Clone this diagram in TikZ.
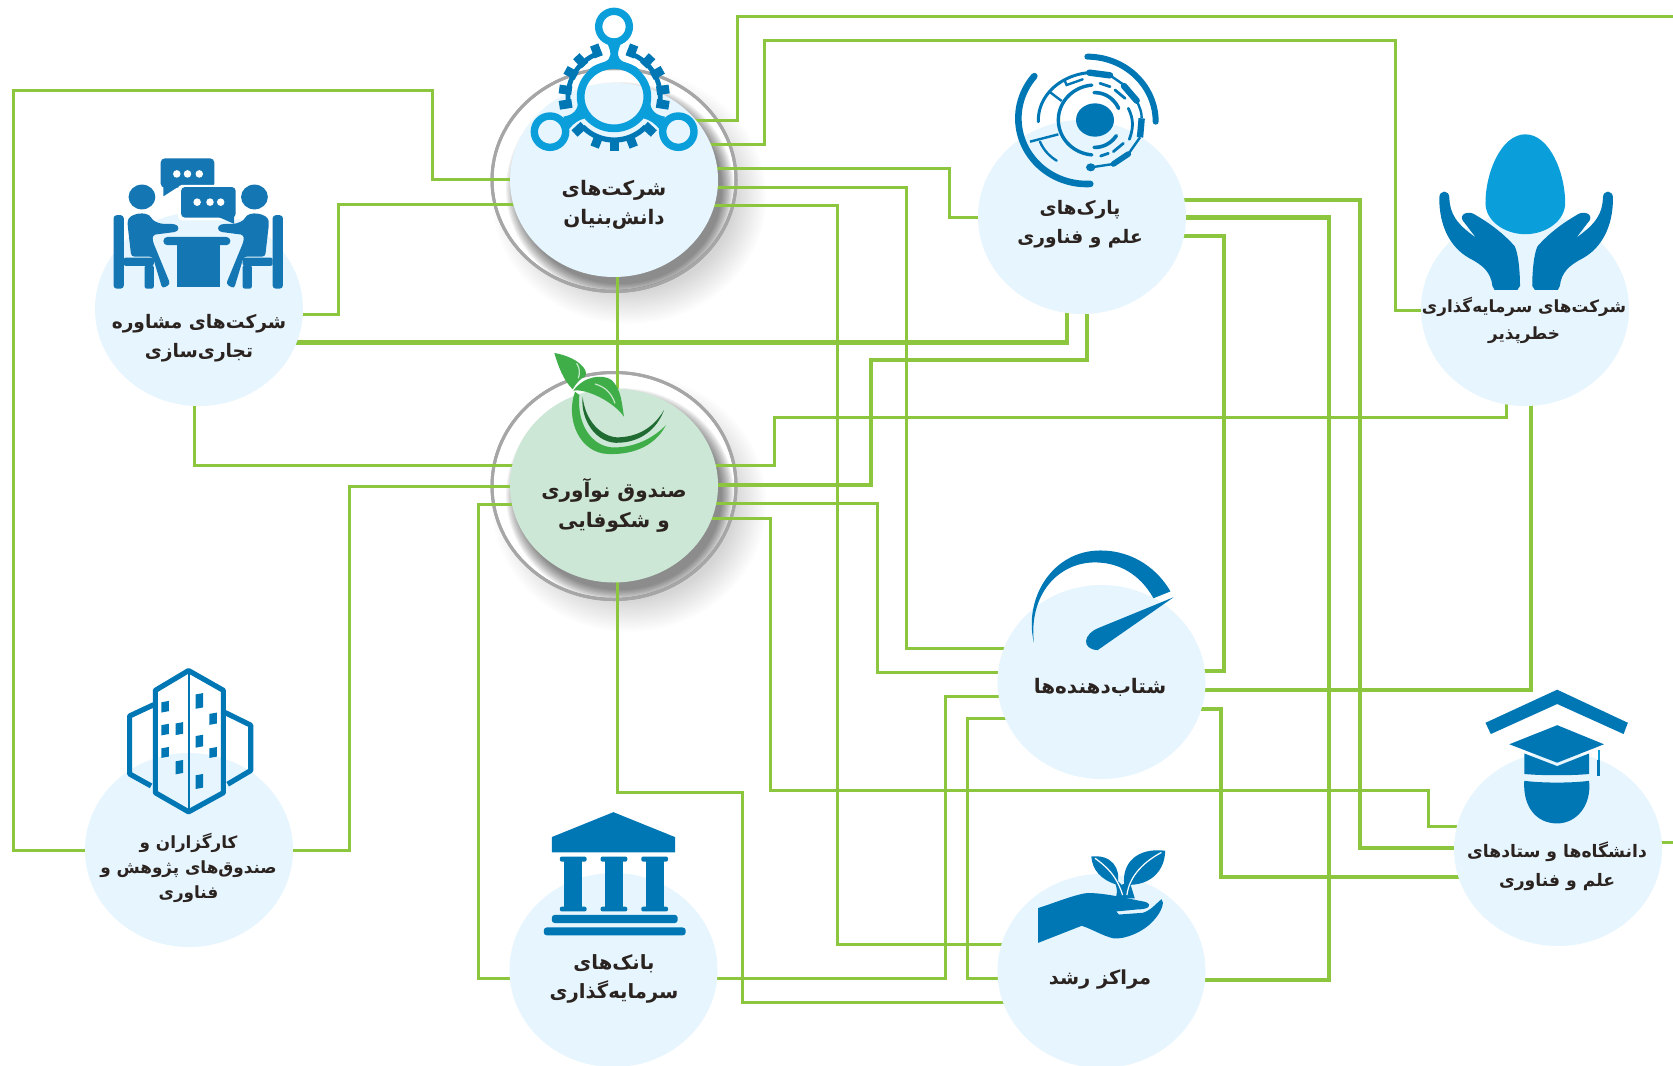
\documentclass[tikz,border=0pt]{standalone}
\usepackage{fontspec}
\usetikzlibrary{shapes.geometric}
\TeXXeTstate=1
\newfontfamily\arabicfont[Script=Arabic]{DejaVu Sans}
\pgfdeclarelayer{rings}
\pgfdeclarelayer{links}
\pgfsetlayers{rings,links,main}
\definecolor{linkgreen}{HTML}{8CC63F}
\definecolor{discblue}{HTML}{E6F5FE}
\definecolor{discgreen}{HTML}{CDE7D6}
\definecolor{iconblue}{HTML}{0077B5}
\definecolor{iconcyan}{HTML}{0A9FDB}
\definecolor{iconnavy}{HTML}{1476B3}
\definecolor{leafgreen}{HTML}{3FAE49}
\definecolor{leafdark}{HTML}{1F6B32}
\definecolor{inktext}{HTML}{2B2320}
\newcommand\EArc[7]{\draw[#1] plot[domain=#6:#7,samples=40] ({#2+#3*cos(\x)},{#4+#5*sin(\x)});}
\newcommand\labfont[2]{\arabicfont\bfseries\fontsize{#1}{#2}\selectfont}
\tikzset{
  disc/.style={ellipse,fill=discblue,minimum width=104pt,minimum height=97pt,inner sep=0pt},
  ringnode/.style={ellipse,fill=white,draw=gray!75,line width=1.5pt,minimum width=122pt,inner sep=0pt},
  lab/.style={font=\labfont{9.3}{14.6},text=inktext,align=center,inner sep=0pt},
  link/.style={draw=linkgreen,line width=1.5pt},
  linkm/.style={draw=linkgreen,line width=2pt},
  linkb/.style={draw=linkgreen,line width=2.3pt},
  z1/.style={x=0.26786pt,y=-0.17219pt},
  z2/.style={x=0.26563pt,y=-0.17219pt,xshift=420pt},
  z3/.style={x=0.26786pt,y=-0.17060pt,yshift=-265pt},
  z4/.style={x=0.26563pt,y=-0.17060pt,xshift=420pt,yshift=-265pt},
  zk/.style={x=0.16667pt,y=-0.16667pt,xshift=255pt},
  zs/.style={x=0.16667pt,y=-0.16667pt,xshift=500pt,yshift=-20pt},
  zf/.style={x=0.16667pt,y=-0.16667pt,xshift=240pt,yshift=-180pt},
}
\begin{document}
\begin{tikzpicture}[x=0.5pt,y=-0.5pt]
\useasboundingbox (0,0) rectangle (1673,1065);
\coordinate (edgeT) at (1673,16.5);
\coordinate (edgeU) at (1673,842);
% discs
\node[disc] (kb) at (614,180) {};
\node[disc,fill=discgreen] (fund) at (614,485.5) {};
\node[disc] (cons) at (199,309) {};
\node[disc] (sp) at (1082,217) {};
\node[disc] (vc) at (1525,309) {};
\node[disc] (acc) at (1101.5,682) {};
\node[disc] (grow) at (1101.5,971) {};
\node[disc] (uni) at (1558,849) {};
\node[disc] (brk) at (189,850) {};
\node[disc] (bank) at (613.5,970) {};
% rings with shadows
\begin{pgfonlayer}{rings}
\fill[white] (0,0) rectangle (1673,1065);
\foreach \cx/\cy/\ry/\nm in {614/180/111.5/kbring,614/486/113.5/fundring}{
  \foreach \i in {0,...,13}
    \fill[black,opacity=.012] (\cx+15,\cy+17) ellipse [x radius={106+2.4*\i},y radius={\ry-16+2.4*\i}];
  \node[ringnode,minimum height=\ry*1pt] (\nm) at (\cx,\cy) {};
  \begin{scope}
    \clip (\cx,\cy) ellipse [x radius=121,y radius={\ry-1}];
    \foreach \i in {0,...,10}
      \fill[black,opacity=.05] (\cx+6,\cy+9) ellipse [x radius={102+1.2*\i},y radius={95+1.2*\i}];
  \end{scope}
  \draw[gray!70,line width=1.5pt] (\cx,\cy) ellipse [x radius=122,y radius=\ry];
}
\end{pgfonlayer}
% connectors
\begin{pgfonlayer}{links}
\draw[link] (kb |- 0,120.5) -| (737.5,16.5) -- (edgeT);
\draw[link] (kb |- 0,144.6) -| (764,41) -| (1395,310.6) -- (vc |- 0,310.6);
\draw[link] (kb |- 0,168) -| (949,217.6) -- (sp |- 0,217.6);
\draw[link] (kb |- 0,187) -| (906,648) -- (acc |- 0,648);
\draw[link] (kb |- 0,205.6) -| (837,944) -- (grow |- 0,944);
\draw[link] (kb |- 0,179.8) -| (432,90.6) -| (13.4,850) -- (brk |- 0,850);
\draw[link] (kb |- 0,204) -| (338.5,314.4) -- (cons |- 0,314.4);
\draw[link] (kb -| 617,0) -- (fund -| 617,0);
\draw[link] (fund -| 617,0) |- (742,792.7) |- (grow |- 0,1002.5);
\draw[linkb] (cons |- 0,342.6) -| (sp -| 1067,0);
\draw[linkm] (sp -| 1086.5,0) |- (871,360) |- (fund |- 0,484.5);
\draw[link] (fund |- 0,465) -| (cons -| 194,0);
\draw[link] (fund |- 0,465) -| (774,417) -| (vc -| 1506,0);
\draw[link] (fund |- 0,486) -| (349,850) -- (brk |- 0,850);
\draw[link] (fund |- 0,504.5) -| (478,978.7) -- (bank |- 0,978.7);
\draw[link] (bank |- 0,978.7) -| (945,696) -- (acc |- 0,696);
\draw[link] (fund |- 0,503) -| (877,672) -- (acc |- 0,672);
\draw[link] (fund |- 0,518) -| (770,790) -| (1428,826) -- (uni |- 0,826);
\draw[linkb] (sp |- 0,200) -| (1360,848) -- (uni |- 0,848);
\draw[linkb] (sp |- 0,217.6) -| (1329,980) -- (grow |- 0,980);
\draw[linkm] (sp |- 0,236) -| (1224,670.6) -- (acc |- 0,670.6);
\draw[linkm] (vc -| 1531,0) |- (acc |- 0,689.7);
\draw[linkm] (acc |- 0,709) -| (1221,877) -- (uni |- 0,877);
\draw[link] (acc |- 0,718) -| (967.5,978.7) -- (grow |- 0,978.7);
\draw[link] (uni |- 0,842) -- (edgeU);
\end{pgfonlayer}
% labels
\node[lab,font=\labfont{10}{14.6}] (tkb) at (614,205) {\beginR شرکت‌های\endR\\\beginR دانش‌بنیان\endR};
\node[lab,font=\labfont{10}{15}] (tfund) at (614,505.5) {\beginR صندوق نوآوری\endR\\\beginR و شکوفایی\endR};
\node[lab] (tcons) at (199,338.5) {\beginR شرکت‌های مشاوره\endR\\\beginR تجاری‌سازی\endR};
\node[lab] (tsp) at (1080,224.5) {\beginR پارک‌های\endR\\\beginR علم و فناوری\endR};
\node[lab,font=\labfont{8.4}{13.5}] (tvc) at (1524,320.5) {\beginR شرکت‌های سرمایه‌گذاری\endR\\\beginR خطرپذیر\endR};
\node[lab,font=\labfont{10}{14.6}] (tacc) at (1100,687.6) {\beginR شتاب‌دهنده‌ها\endR};
\node[lab,font=\labfont{9.7}{14.6}] (tgrow) at (1100,979) {\beginR مراکز رشد\endR};
\node[lab,font=\labfont{8.6}{14.5}] (tuni) at (1557,866.5) {\beginR دانشگاه‌ها و ستادهای\endR\\\beginR علم و فناوری\endR};
\node[lab,font=\labfont{8.4}{12.5}] (tbrk) at (188.5,868) {\beginR کارگزاران و\endR\\\beginR صندوق‌های پژوهش و\endR\\\beginR فناوری\endR};
\node[lab,font=\labfont{9.8}{14.6}] (tbank) at (614,979) {\beginR بانک‌های\endR\\\beginR سرمایه‌گذاری\endR};

% icon: knowledge-based companies
\begin{scope}[zk]
  \foreach \xx/\sh in {1/0,-1/625}{
  \begin{scope}[shift={(\sh,0)},xscale=\xx]
    \EArc{iconblue,line width=2.4pt}{312}{138}{290}{138}{166}{254}
    \foreach \a in {249,227,209,188,171}
      \draw[iconblue,line width=4.4pt] ({312+128*cos(\a)},{290+128*sin(\a)}) -- ({312+166*cos(\a)},{290+166*sin(\a)});
    \EArc{iconblue,line width=2.6pt}{312}{130}{290}{130}{90}{136}
    \foreach \a in {90,111,137}
      \draw[iconblue,line width=4.4pt] ({312+125*cos(\a)},{290+125*sin(\a)}) -- ({312+162*cos(\a)},{290+162*sin(\a)});
    \fill[iconcyan] (205,300) .. controls (205,330) and (190,345) .. (160,350) -- (175,390) .. controls (190,370) and (205,360) .. (225,355) -- cycle;
  \end{scope}}
  \fill[iconcyan] (292,130) .. controls (305,160) and (305,175) .. (285,185) .. controls (270,190) and (250,195) .. (235,210) -- (312,197) -- (390,210) .. controls (375,195) and (355,190) .. (340,185) .. controls (320,175) and (320,160) .. (333,130) -- cycle;
  \draw[iconcyan,line width=3.7pt] (312,80) circle [radius=46];
  \draw[iconcyan,line width=3.7pt] (120,395) circle [radius=47];
  \draw[iconcyan,line width=3.7pt] (505,395) circle [radius=47];
  \draw[iconcyan,line width=3.9pt] (312,290) ellipse [x radius=100,y radius=95];
\end{scope}

% icon: consulting
\begin{scope}[z1]
  \fill[iconnavy,rounded corners=2pt] (300,460) rectangle (400,545);
  \fill[iconnavy] (305,540) -- (305,570) -- (335,540) -- cycle;
  \foreach \q in {330,350,372} \fill[white] (\q,505) ellipse [x radius=7,y radius=11];
  \fill[white,rounded corners=2pt] (332,537) rectangle (446,640);
  \fill[iconnavy,rounded corners=2pt] (338,543) rectangle (440,632);
  \fill[iconnavy] (405,628) -- (437,650) -- (437,628) -- cycle;
  \foreach \q in {368,392,412} \fill[white] (\q,587) ellipse [x radius=7,y radius=11];
  \foreach \xx/\sh in {1/0,-1/740}{
  \begin{scope}[shift={(\sh,0)},xscale=\xx]
    \fill[iconnavy] (265,572) ellipse [x radius=25,y radius=36];
    \fill[iconnavy,rounded corners=1.5pt] (212,625) rectangle (231,838);
    \fill[iconnavy,rounded corners=1pt] (231,748) rectangle (287,772);
    \fill[iconnavy,rounded corners=1pt] (270,770) rectangle (287,838);
    \fill[iconnavy,rounded corners=1.5pt] (238,650) .. controls (240,620) and (275,610) .. (285,640) -- (300,650) -- (322,650) .. controls (335,655) and (335,672) .. (320,675) -- (285,682) -- (285,700) -- (318,825) -- (303,838) -- (285,745) -- (245,745) -- cycle;
  \end{scope}}
  \fill[iconnavy,rounded corners=2pt] (305,688) rectangle (430,712);
  \fill[iconnavy] (330,712) rectangle (410,832);
\end{scope}

% icon: science park
\begin{scope}[zs]
  \fill[iconblue] (285,240) ellipse [x radius=57,y radius=50];
  \EArc{iconblue,line width=3.3pt,line cap=round}{260}{205}{235}{197}{87}{220}
  \EArc{iconblue,line width=3pt,line cap=round}{262}{205}{245}{195}{-90}{0}
  \EArc{iconblue,line width=1.7pt,line cap=round}{285}{110}{240}{105}{95}{265}
  \EArc{iconblue,line width=1.8pt,line cap=round}{285}{78}{240}{82}{-92}{-25}
  \EArc{iconblue,line width=1.8pt,line cap=round}{285}{78}{240}{82}{35}{92}
  \EArc{iconblue,line width=1.5pt,line cap=round}{285}{170}{240}{143}{178}{268}
  \foreach \a/\b/\c/\d in {300/130/330/140,345/150/375/175,340/335/370/310,302/348/325/340}
    \draw[iconblue,line width=1.4pt,line cap=round] (\a,\b) -- (\c,\d);
  \draw[iconblue,line width=1.4pt,line cap=round] (385,205) .. controls (402,240) and (400,265) .. (388,298);
  \draw[iconblue,line width=3.2pt,line cap=round] (268,98) -- (330,106);
  \draw[iconblue,line width=1.2pt] (330,106) -- (372,135);
  \draw[iconblue,line width=3.2pt,line cap=round] (372,138) -- (410,182);
  \draw[iconblue,line width=1.2pt] (410,182) .. controls (420,205) and (425,215) .. (425,235);
  \draw[iconblue,line width=3.2pt] (425,235) -- (420,292);
  \draw[iconblue,line width=1.2pt] (420,292) -- (385,342);
  \draw[iconblue,line width=2.8pt,line cap=round] (385,342) -- (340,372);
  \draw[iconblue,line width=1.2pt] (340,372) -- (280,381);
  \fill[iconblue] (272,382) ellipse [x radius=14,y radius=12];
  \draw[iconblue,line width=1.2pt] (148,155) -- (185,183);
  \draw[iconblue,line width=1.2pt] (90,305) -- (175,283);
  \draw[iconblue,line width=1.2pt,line cap=round] (120,305) .. controls (130,330) and (150,350) .. (170,362);
  \draw[iconblue,line width=1.2pt,line cap=round] (193,120) -- (200,135) -- (248,118);
\end{scope}

% icon: venture capital
\begin{scope}[z2]
  \fill[iconcyan] (1290,390) .. controls (1335,390) and (1365,500) .. (1365,590) .. controls (1365,640) and (1330,680) .. (1290,680) .. controls (1250,680) and (1215,640) .. (1215,590) .. controls (1215,500) and (1245,390) .. (1290,390) -- cycle;
  \foreach \xx/\sh in {1/0,-1/2583}{
  \begin{scope}[shift={(\sh,0)},xscale=\xx]
    \fill[iconblue] (1128,575) .. controls (1128,550) and (1147,550) .. (1147,575) .. controls (1148,620) and (1160,650) .. (1197,690) -- (1172,640) .. controls (1165,620) and (1185,610) .. (1197,625) .. controls (1225,650) and (1250,680) .. (1270,715) .. controls (1278,740) and (1280,800) .. (1280,830) -- (1275,842) -- (1232,842) -- (1228,830) .. controls (1225,790) and (1210,770) .. (1185,750) .. controls (1150,720) and (1128,660) .. (1128,575) -- cycle;
  \end{scope}}
\end{scope}

% icon: accelerators
\begin{scope}[z4]
  \fill[iconblue] (365,330) .. controls (345,200) and (400,60) .. (490,60) .. controls (555,60) and (600,120) .. (622,180) -- (590,200) .. controls (565,130) and (525,95) .. (480,95) .. controls (410,95) and (355,190) .. (365,330) -- cycle;
  \fill[iconblue] (628,197) -- (490,285) .. controls (455,305) and (455,350) .. (485,352) -- cycle;
\end{scope}

% icon: growth centres
\begin{scope}[z4]
  \fill[iconblue] (373,1108) .. controls (400,1095) and (430,1075) .. (460,1065) .. controls (490,1060) and (540,1080) .. (575,1090) .. controls (590,1100) and (580,1112) .. (560,1112) -- (520,1118) -- (525,1127) -- (570,1122) .. controls (585,1115) and (595,1095) .. (605,1082) .. controls (612,1090) and (605,1120) .. (590,1145) .. controls (570,1180) and (535,1200) .. (515,1197) .. controls (495,1190) and (475,1170) .. (455,1160) -- (373,1210) -- cycle;
  \fill[iconblue] (473,957) .. controls (510,950) and (530,990) .. (522,1040) .. controls (490,1025) and (475,995) .. (473,957) -- cycle;
  \fill[iconblue] (612,940) .. controls (560,930) and (530,975) .. (535,1040) .. controls (590,1045) and (612,990) .. (612,940) -- cycle;
  \fill[iconblue] (518,1080) .. controls (525,1060) and (520,1030) .. (505,1000) -- (530,1040) -- (545,1030) -- (555,1080) -- cycle;
  \draw[white,line width=0.6pt] (480,962) .. controls (500,985) and (520,1010) .. (532,1070);
  \draw[white,line width=0.6pt] (605,945) .. controls (575,970) and (545,1010) .. (540,1070);
\end{scope}

% icon: universities
\begin{scope}[z4]
  \fill[iconblue] (1350,468) -- (1483,565) -- (1475,598) -- (1350,510) -- (1225,598) -- (1215,565) -- cycle;
  \fill[iconblue] (1350,572) -- (1438,628) -- (1350,682) -- (1260,628) -- cycle;
  \fill[iconblue] (1288,655) -- (1350,692) -- (1410,655) -- (1410,715) .. controls (1380,720) and (1320,720) .. (1288,715) -- cycle;
  \fill[iconblue] (1288,735) .. controls (1320,742) and (1380,742) .. (1410,735) .. controls (1415,810) and (1385,860) .. (1350,860) .. controls (1310,860) and (1285,810) .. (1288,735) -- cycle;
  \draw[iconcyan,line width=0.9pt] (1428,645) -- (1428,690);
  \draw[iconblue,line width=1.8pt] (1428,675) -- (1428,720);
\end{scope}

% icon: banks
\begin{scope}[z3]
  \fill[iconblue] (1145,827) -- (1260,900) -- (1260,945) -- (1030,945) -- (1030,900) -- cycle;
  \foreach \q in {1070,1146,1222}{
    \fill[iconblue,rounded corners=1pt] (\q-25,957) rectangle (\q+25,972);
    \fill[iconblue] (\q-17,970) rectangle (\q+17,1106);
    \fill[iconblue,rounded corners=1pt] (\q-25,1104) rectangle (\q+25,1118);
  }
  \fill[iconblue,rounded corners=1.5pt] (1030,1128) rectangle (1265,1152);
  \fill[iconblue,rounded corners=1.5pt] (1015,1165) rectangle (1280,1188);
\end{scope}

% icon: brokers
\begin{scope}[z3]
  \draw[iconblue,line width=2.6pt,line join=round] (352,412) -- (417,470) -- (417,770) -- (352,826) -- (290,770) -- (290,470) -- cycle;
  \draw[iconblue,line width=1pt] (352,412) -- (352,826);
  \draw[iconblue,line width=2.6pt,line join=round] (287,512) -- (242,545) -- (242,715) -- (282,750);
  \draw[iconblue,line width=2.6pt,line join=round] (420,535) -- (468,572) -- (468,705) -- (425,745);
  \foreach \q/\r/\h in {308/518/17,308/585/17,308/652/16,335/582/19,335/695/21,372/501/23,372/619/19,372/737/22,398/553/18,398/652/16}
    \fill[iconblue] (\q-7,\r-\h+4) -- (\q+7,\r-\h) -- (\q+7,\r+\h-4) -- (\q-7,\r+\h) -- cycle;
\end{scope}

% icon: innovation fund
\begin{scope}[zf]
  \fill[leafgreen] (285,95) .. controls (255,180) and (300,280) .. (385,282) .. controls (470,285) and (530,250) .. (558,195) .. controls (520,235) and (460,265) .. (395,262) .. controls (340,258) and (290,200) .. (298,105) -- cycle;
  \fill[leafdark] (308,110) .. controls (300,180) and (350,255) .. (420,248) .. controls (480,245) and (530,210) .. (552,150) .. controls (520,205) and (470,232) .. (410,232) .. controls (360,228) and (315,180) .. (308,110) -- cycle;
  \fill[leafgreen] (223,-21) .. controls (290,-10) and (330,30) .. (315,50) .. controls (300,55) and (285,75) .. (278,88) .. controls (250,60) and (235,20) .. (223,-21) -- cycle;
  \fill[leafgreen] (432,170) .. controls (425,130) and (425,90) .. (395,60) .. controls (365,40) and (310,50) .. (280,92) .. controls (320,85) and (400,125) .. (432,170) -- cycle;
  \draw[white!70!leafgreen,line width=0.6pt] (345,72) .. controls (375,80) and (395,100) .. (405,130);
  \draw[white!70!leafgreen,line width=0.6pt] (290,10) .. controls (300,25) and (300,40) .. (295,55);
\end{scope}
\end{tikzpicture}
\end{document}
